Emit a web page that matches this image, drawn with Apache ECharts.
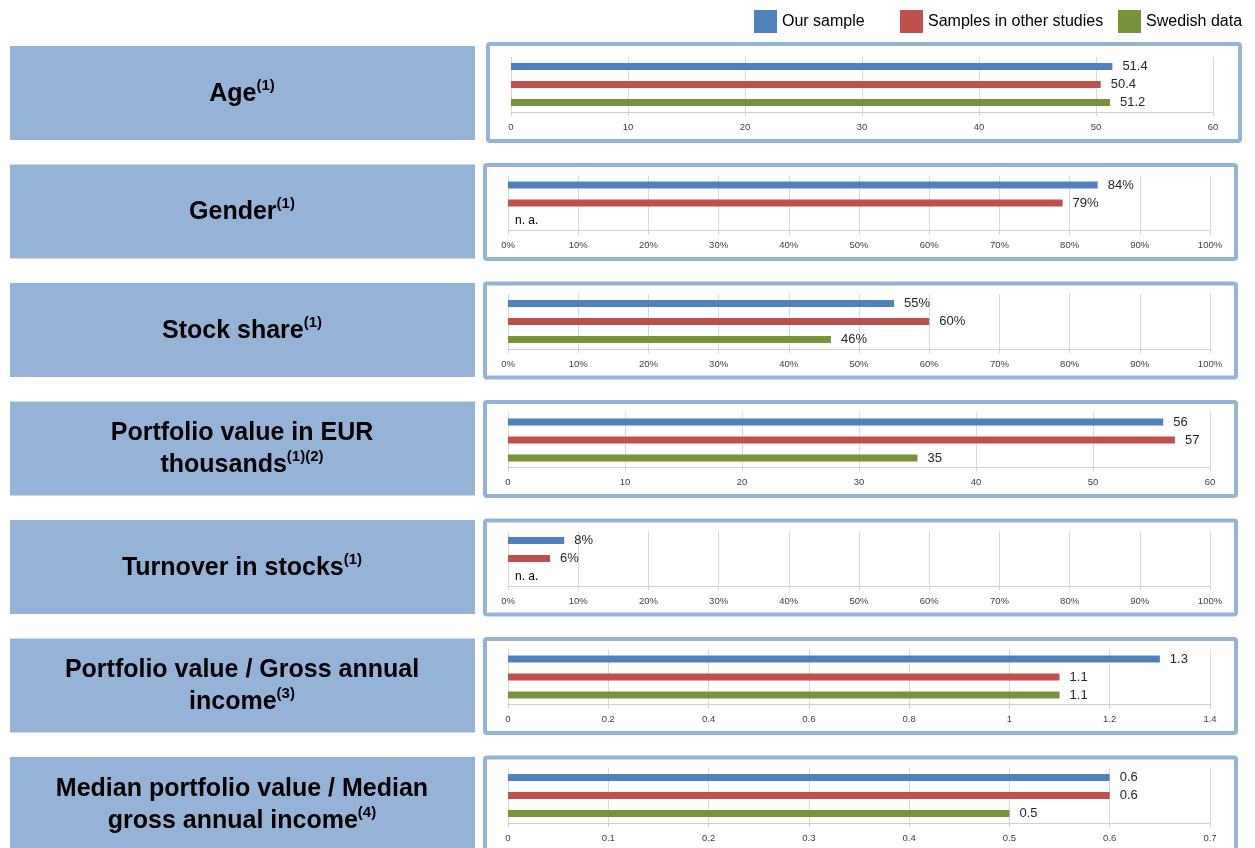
<!DOCTYPE html>
<html>
<head>
<meta charset="utf-8">
<script src="https://cdn.jsdelivr.net/npm/echarts@6/dist/echarts.min.js"></script>
<style>
    html, body { margin: 0; padding: 0; background: #fff; }
    #chart { width: 1255px; height: 848px; }
</style>
</head>
<body>
<div id="chart"></div>
<script>
// row titles and their footnote marks
const titles = [
    'Age',
    'Gender',
    'Stock share',
    'Portfolio value in EUR\nthousands',
    'Turnover in stocks',
    'Portfolio value / Gross annual\nincome',
    'Median portfolio value / Median\ngross annual income'
];
const footnotes = ['(1)', '(1)', '(1)', '(1)(2)', '(1)', '(3)', '(4)'];

// values (percent rows in %), null = n. a.
const ourSample = [51.4, 84, 55, 56, 8, 1.3, 0.6];
const otherStudies = [50.4, 79, 60, 57, 6, 1.1, 0.6];
const swedishData = [51.2, null, 46, 35, null, 1.1, 0.5];

// axis per row
const axisMax = [60, 100, 100, 60, 100, 1.4, 0.7];
const axisStep = [10, 10, 10, 10, 10, 0.2, 0.1];
const isPercent = [false, true, true, false, true, false, false];

const seriesNames = ['Our sample', 'Samples in other studies', 'Swedish data'];
const seriesColors = ['#4f81bd', '#c0504d', '#77933c'];

const FONT = '"Liberation Sans Narrow", "Arial Narrow", "Liberation Sans", Arial, sans-serif';
const ROW_STEP = 118.5;

const chart = echarts.init(document.getElementById('chart'));

const grids = [];
const xAxes = [];
const yAxes = [];
const series = [];
const graphics = [];

titles.forEach((title, i) => {
    const top = 57 + i * ROW_STEP;
    grids.push({
        left: i === 0 ? 511 : 508,
        right: i === 0 ? 42 : 45,
        top: top,
        height: 55
    });
    xAxes.push({
        type: 'value',
        gridIndex: i,
        min: 0,
        max: axisMax[i],
        interval: axisStep[i],
        axisLine: { show: true, lineStyle: { color: '#d0d0d0' } },
        axisTick: { show: true, length: 4, lineStyle: { color: '#d0d0d0' } },
        splitLine: { show: true, lineStyle: { color: '#d9d9d9' } },
        axisLabel: {
            color: '#404040',
            fontSize: 9.5,
            fontFamily: FONT,
            margin: 10,
            formatter: isPercent[i] ? '{value}%' : null
        }
    });
    yAxes.push({
        type: 'category',
        gridIndex: i,
        data: [''],
        show: false
    });

    [ourSample, otherStudies, swedishData].forEach((arr, k) => {
        const v = arr[i];
        series.push({
            name: seriesNames[k],
            type: 'bar',
            xAxisIndex: i,
            yAxisIndex: i,
            barWidth: 7,
            barGap: '157%',
            itemStyle: { color: seriesColors[k] },
            label: {
                show: true,
                position: 'right',
                distance: 10,
                color: '#262626',
                fontSize: 13,
                fontFamily: FONT,
                formatter: isPercent[i] ? '{c}%' : '{c}'
            },
            data: [v === null
                ? { value: 0, label: { formatter: 'n. a.', distance: 7, fontSize: 12, color: '#000' } }
                : v]
        });
    });

    // left title box
    const boxTop = 46 + i * ROW_STEP;
    graphics.push({
        type: 'rect',
        shape: { x: 10, y: boxTop, width: 465, height: 94 },
        style: { fill: '#95b3d7' }
    });
    graphics.push({
        type: 'text',
        x: 242,
        y: boxTop + 48,
        style: {
            text: title + '{sup|' + footnotes[i] + '}',
            align: 'center',
            verticalAlign: 'middle',
            fill: '#000',
            font: 'bold 25px ' + FONT,
            lineHeight: 32,
            rich: {
                sup: {
                    fontSize: 15,
                    fontWeight: 'bold',
                    fontFamily: FONT,
                    fill: '#000',
                    lineHeight: 22,
                    verticalAlign: 'top'
                }
            }
        }
    });

    // right frame around each chart
    graphics.push({
        type: 'rect',
        shape: i === 0
            ? { x: 488, y: 44, width: 752, height: 97, r: 2 }
            : { x: 485, y: 165 + (i - 1) * ROW_STEP, width: 751, height: 94, r: 2 },
        style: { fill: null, stroke: '#95b3d7', lineWidth: 4 }
    });
});

const legendLefts = [749, 895, 1113];
const legends = seriesNames.map((name, k) => ({
    data: [name],
    left: legendLefts[k],
    top: 5,
    icon: 'rect',
    itemWidth: 23,
    itemHeight: 23,
    itemGap: 7,
    textStyle: { fontSize: 16, fontFamily: FONT, color: '#000' }
}));

chart.setOption({
    animation: false,
    legend: legends,
    grid: grids,
    xAxis: xAxes,
    yAxis: yAxes,
    series: series,
    graphic: graphics
});
</script>
</body>
</html>
